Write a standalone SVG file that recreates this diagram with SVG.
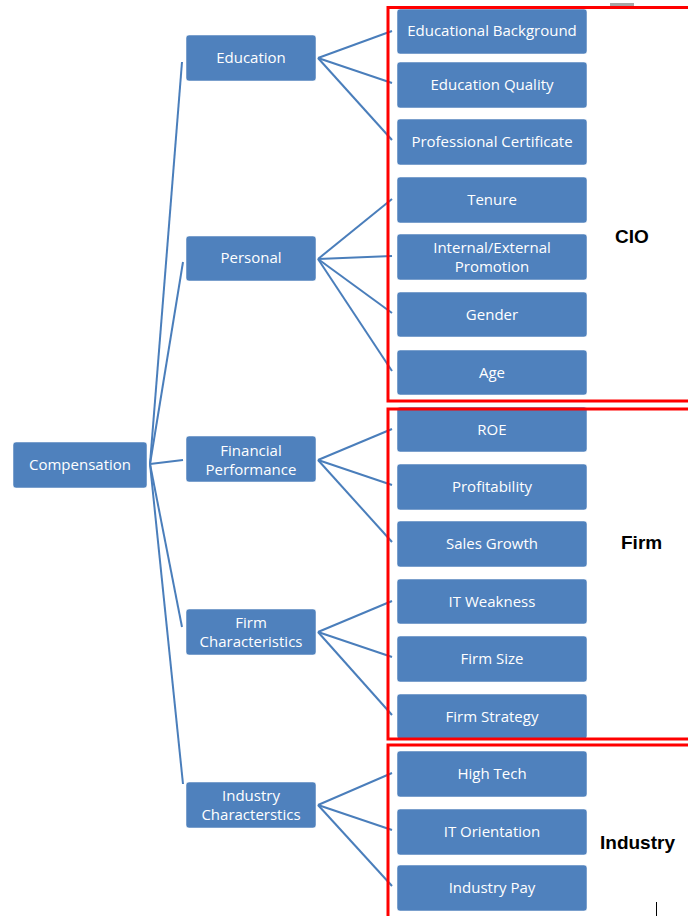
<svg xmlns="http://www.w3.org/2000/svg" width="688" height="916" viewBox="0 0 688 916">
<style>
.box{fill:#4f81bd;stroke:#ffffff;stroke-opacity:0.5;stroke-width:1}
.t{font-family:"Open Sans","Liberation Sans",sans-serif;font-size:15px;fill:#ffffff;text-anchor:middle}
.lbl{font-family:"Liberation Sans",Arial,sans-serif;font-size:19px;font-weight:bold;fill:#000000}
.c line{stroke:#4a7ebb;stroke-width:2;fill:none}
.red{fill:none;stroke:#ff0000;stroke-width:3}
</style>
<rect x="0" y="0" width="688" height="916" fill="#ffffff"/>
<rect x="610" y="3" width="24" height="3" fill="#a6a6a6"/>
<g id="connectors" class="c">
<line x1="150" y1="464" x2="182" y2="62"/>
<line x1="150" y1="464" x2="183" y2="262"/>
<line x1="150" y1="464" x2="183" y2="460"/>
<line x1="150" y1="464" x2="182" y2="627"/>
<line x1="150" y1="464" x2="183" y2="784"/>
<line x1="318" y1="58" x2="392" y2="31"/>
<line x1="318" y1="58" x2="392" y2="83"/>
<line x1="318" y1="58" x2="392" y2="140"/>
<line x1="318" y1="259" x2="392" y2="199"/>
<line x1="318" y1="259" x2="392" y2="256"/>
<line x1="318" y1="259" x2="392" y2="313"/>
<line x1="318" y1="259" x2="392" y2="371"/>
<line x1="318" y1="460" x2="392" y2="429"/>
<line x1="318" y1="460" x2="392" y2="485"/>
<line x1="318" y1="460" x2="392" y2="542"/>
<line x1="318" y1="632" x2="392" y2="601"/>
<line x1="318" y1="632" x2="392" y2="657"/>
<line x1="318" y1="632" x2="392" y2="715"/>
<line x1="318" y1="805" x2="392" y2="773"/>
<line x1="318" y1="805" x2="392" y2="830"/>
<line x1="318" y1="805" x2="392" y2="886"/>
</g>
<g id="compensation"><rect class="box" x="13" y="442" width="134" height="46" rx="3"/><text class="t" x="80" y="470">Compensation</text></g>
<g id="education"><rect class="box" x="186" y="35" width="130" height="46" rx="3"/><text class="t" x="251" y="63">Education</text></g>
<g id="personal"><rect class="box" x="186" y="236" width="130" height="45" rx="3"/><text class="t" x="251" y="263">Personal</text></g>
<g id="financial-performance"><rect class="box" x="186" y="436" width="130" height="46" rx="3"/><text class="t" x="251" y="456">Financial</text><text class="t" x="251" y="475">Performance</text></g>
<g id="firm-characteristics"><rect class="box" x="186" y="609" width="130" height="46" rx="3"/><text class="t" x="251" y="628">Firm</text><text class="t" x="251" y="647">Characteristics</text></g>
<g id="industry-characteristics"><rect class="box" x="186" y="782" width="130" height="46" rx="3"/><text class="t" x="251" y="801">Industry</text><text class="t" x="251" y="820">Characterstics</text></g>
<g id="educational-background"><rect class="box" x="397" y="9" width="190" height="45" rx="3"/><text class="t" x="492" y="36">Educational Background</text></g>
<g id="education-quality"><rect class="box" x="397" y="62" width="190" height="46" rx="3"/><text class="t" x="492" y="90">Education Quality</text></g>
<g id="professional-certificate"><rect class="box" x="397" y="119" width="190" height="46" rx="3"/><text class="t" x="492" y="147">Professional Certificate</text></g>
<g id="tenure"><rect class="box" x="397" y="177" width="190" height="46" rx="3"/><text class="t" x="492" y="205">Tenure</text></g>
<g id="internal-external-promotion"><rect class="box" x="397" y="234" width="190" height="46" rx="3"/><text class="t" x="492" y="253">Internal/External</text><text class="t" x="492" y="272">Promotion</text></g>
<g id="gender"><rect class="box" x="397" y="292" width="190" height="45" rx="3"/><text class="t" x="492" y="320">Gender</text></g>
<g id="age"><rect class="box" x="397" y="350" width="190" height="45" rx="3"/><text class="t" x="492" y="378">Age</text></g>
<g id="roe"><rect class="box" x="397" y="407" width="190" height="45" rx="3"/><text class="t" x="492" y="435">ROE</text></g>
<g id="profitability"><rect class="box" x="397" y="464" width="190" height="46" rx="3"/><text class="t" x="492" y="492">Profitability</text></g>
<g id="sales-growth"><rect class="box" x="397" y="521" width="190" height="46" rx="3"/><text class="t" x="492" y="549">Sales Growth</text></g>
<g id="it-weakness"><rect class="box" x="397" y="579" width="190" height="45" rx="3"/><text class="t" x="492" y="607">IT Weakness</text></g>
<g id="firm-size"><rect class="box" x="397" y="636" width="190" height="46" rx="3"/><text class="t" x="492" y="664">Firm Size</text></g>
<g id="firm-strategy"><rect class="box" x="397" y="694" width="190" height="45" rx="3"/><text class="t" x="492" y="722">Firm Strategy</text></g>
<g id="high-tech"><rect class="box" x="397" y="751" width="190" height="46" rx="3"/><text class="t" x="492" y="779">High Tech</text></g>
<g id="it-orientation"><rect class="box" x="397" y="809" width="190" height="46" rx="3"/><text class="t" x="492" y="837">IT Orientation</text></g>
<g id="industry-pay"><rect class="box" x="397" y="865" width="190" height="46" rx="3"/><text class="t" x="492" y="893">Industry Pay</text></g>
<g id="group-cio"><rect class="red" x="388" y="7.5" width="320" height="393.5"/><text class="lbl" x="615" y="243">CIO</text></g>
<g id="group-firm"><rect class="red" x="388" y="409" width="320" height="330"/><text class="lbl" x="621" y="549">Firm</text></g>
<g id="group-industry"><rect class="red" x="388" y="745" width="320" height="200"/><text class="lbl" x="600" y="849">Industry</text></g>
<line x1="656.5" y1="902" x2="656.5" y2="916" stroke="#000000" stroke-width="1"/>
</svg>
